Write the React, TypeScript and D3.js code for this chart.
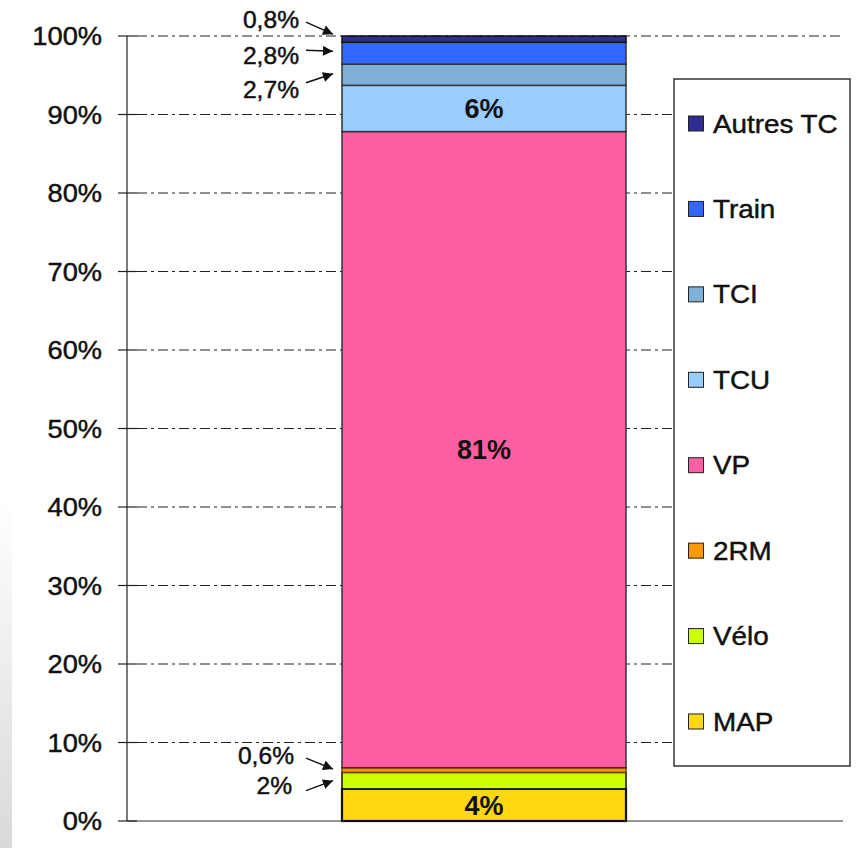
import React from "react";
import * as d3 from "d3";

const categories = ["MAP", "Vélo", "2RM", "VP", "TCU", "TCI", "Train", "Autres TC"];
const values = [4.1, 2.1, 0.6, 81.2, 5.9, 2.7, 2.8, 0.8];
const labels = ["4%", "2%", "0,6%", "81%", "6%", "2,7%", "2,8%", "0,8%"];
const insideLabel = [true, false, false, true, true, false, false, false];
const colors = ["#FFD814", "#CCFF00", "#FF9900", "#FF5FA2", "#99CCFF", "#7FB0D8", "#3366FF", "#2E2E8E"];
const segStroke = ["#111", "#111", "#7a3a00", "#333", "#333", "#333", "#333", "#111"];
const yTicks = [0, 0.1, 0.2, 0.3, 0.4, 0.5, 0.6, 0.7, 0.8, 0.9, 1];

// annotation layout (offsets relative to segment midpoint): [textDy, arrowStartDy, textRightX, arrowEndDy]
const annot: Record<string, [number, number, number, number]> = {
  "2RM": [-14, -12, 294, -1],
  "Vélo": [5, 10, 292, 0],
  "TCI": [15, 8, 299, -1],
  "Train": [2, -3, 299, -2],
  "Autres TC": [-19, -17, 299, -5],
};

const W = 866;
const H = 848;
const FONT = "'Liberation Sans', Arial, sans-serif";

export default function App() {
  const y = d3.scaleLinear().domain([0, 1]).range([821, 36]);
  const x = d3.scaleBand().domain(["all"]).range([342, 626]).padding(0);
  const row: Record<string, number> = {};
  categories.forEach((c, i) => (row[c] = values[i]));
  const series = d3.stack<Record<string, number>>().keys(categories).offset(d3.stackOffsetExpand)([row]);
  const legendY = d3.scalePoint<string>().domain([...categories].reverse()).range([123, 721]);
  const fmt = d3.format(".0%");
  const axisX = 127;
  const gridEnd = 843;
  const txtStroke = { stroke: "#111", strokeWidth: 0.45 };

  return (
    <svg width={W} height={H} style={{ position: "absolute", left: 0, top: 0, display: "block", background: "#fff" }} fontFamily={FONT}>
      <defs>
        <linearGradient id="lg" x1="0" y1="0" x2="0" y2="1">
          <stop offset="0" stopColor="#ffffff" />
          <stop offset="1" stopColor="#d9d9d9" />
        </linearGradient>
        <marker id="arr" viewBox="0 0 10 10" refX="10" refY="5" markerWidth="12" markerHeight="10" markerUnits="userSpaceOnUse" orient="auto">
          <path d="M0,0 L10,5 L0,10 z" fill="#111" />
        </marker>
      </defs>
      <rect x={0} y={500} width={12} height={348} fill="url(#lg)" />
      {/* gridlines */}
      {yTicks.filter((t) => t > 0).map((t) => (
        <line key={t} x1={axisX + 10} x2={gridEnd} y1={y(t)} y2={y(t)} stroke="#222" strokeWidth={1} strokeDasharray="10,4,3,4" />
      ))}
      {/* axis */}
      <line x1={axisX} x2={axisX} y1={y(1)} y2={y(0)} stroke="#222" strokeWidth={1.2} />
      <line x1={axisX} x2={gridEnd} y1={y(0)} y2={y(0)} stroke="#333" strokeWidth={1.2} />
      {yTicks.map((t) => (
        <g key={t}>
          <line x1={118} x2={137} y1={y(t)} y2={y(t)} stroke="#222" strokeWidth={1.2} />
          <text transform={`translate(102,${y(t)}) scale(1.09,1)`} textAnchor="end" dy="0.36em" fontSize={25} fill="#111" {...txtStroke}>
            {fmt(t)}
          </text>
        </g>
      ))}
      {/* bar */}
      {series.map((s, i) => {
        const d = s[0];
        return (
          <rect key={s.key} x={x("all")!} width={x.bandwidth()} y={y(d[1])} height={y(d[0]) - y(d[1])} fill={colors[i]} stroke={segStroke[i]} strokeWidth={i === 0 ? 2.2 : 1.5} />
        );
      })}
      {/* labels */}
      {series.map((s, i) => {
        const d = s[0];
        const mid = (y(d[0]) + y(d[1])) / 2;
        if (insideLabel[i]) {
          return (
            <text key={s.key} x={x("all")! + x.bandwidth() / 2} y={mid} dy="0.36em" textAnchor="middle" fontSize={27} fontWeight="bold" fill="#111">
              {labels[i]}
            </text>
          );
        }
        const a = annot[s.key];
        if (!a) return null;
        return (
          <g key={s.key}>
            <text transform={`translate(${a[2]},${mid + a[0]}) scale(1.07,1)`} dy="0.36em" textAnchor="end" fontSize={23} fill="#111" {...txtStroke}>
              {labels[i]}
            </text>
            <line x1={306} y1={mid + a[1]} x2={333} y2={mid + a[3]} stroke="#111" strokeWidth={1.4} markerEnd="url(#arr)" />
          </g>
        );
      })}
      {/* legend */}
      <rect x={674} y={79} width={176} height={687} fill="#fff" stroke="#333" strokeWidth={1.5} />
      {categories.map((c, i) => (
        <g key={c}>
          <rect x={688.5} y={legendY(c)! - 7} width={15} height={15} fill={colors[i]} stroke="#222" strokeWidth={1} />
          <text transform={`translate(713,${legendY(c)!}) scale(1.05,1)`} dy="0.36em" fontSize={26.5} fill="#111" {...txtStroke}>
            {c}
          </text>
        </g>
      ))}
    </svg>
  );
}
